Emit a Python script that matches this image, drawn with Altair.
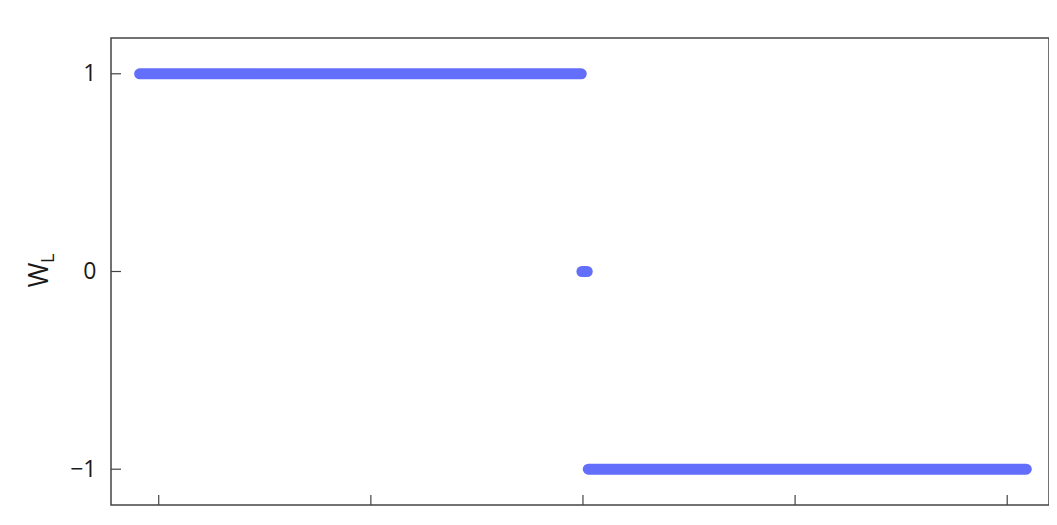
import altair as alt
import pandas as pd

# Segments of densely packed markers
seg_x_start = [-2.09, -0.005, 0.025]
seg_x_end = [-0.008, 0.02, 2.09]
seg_y = [1, 0, -1]

x_ticks = [-2, -1, 0, 1, 2]
y_ticks = [-1, 0, 1]

segs = pd.DataFrame({"x": seg_x_start, "x2": seg_x_end, "y": seg_y})
xt = pd.DataFrame({"t": x_ticks})
yt = pd.DataFrame({"t": y_ticks})

W, H = 938, 467
FONT = "Open Sans"
BLUE = "#636efa"
AX = "#444444"
TXT = "#1a1a1a"

xscale = alt.Scale(domain=[-2.225, 2.197], nice=False, zero=False)
yscale = alt.Scale(domain=[-1.181, 1.181], nice=False, zero=False)

line = alt.Chart(segs).mark_rule(
    strokeWidth=11, strokeCap="round", color=BLUE, opacity=1
).encode(
    x=alt.X("x:Q", scale=xscale,
            axis=alt.Axis(labels=False, ticks=False, domain=False, grid=False, title=None,
                          values=x_ticks)),
    x2="x2:Q",
    y=alt.Y("y:Q", scale=yscale,
            axis=alt.Axis(values=y_ticks, format="d", ticks=False, domain=False, grid=False,
                          labelFont=FONT, labelFontSize=23, labelColor=TXT,
                          labelPadding=15,
                          title="W", titleFont=FONT, titleFontSize=27,
                          titleFontWeight="normal", titleColor=TXT,
                          titleX=-63.5, titleY=236.5, titleAngle=270,
                          titleAlign="center", titleBaseline="alphabetic")),
)

xtick = alt.Chart(xt).mark_rule(color=AX, strokeWidth=1.2).encode(
    x=alt.X("t:Q", scale=xscale),
    y=alt.value(H), y2=alt.value(H - 10),
)

ytick = alt.Chart(yt).mark_rule(color=AX, strokeWidth=1.2).encode(
    y=alt.Y("t:Q", scale=yscale),
    x=alt.value(0), x2=alt.value(10),
)

sub = alt.Chart(pd.DataFrame({"s": ["L"]})).mark_text(
    font=FONT, fontSize=18, angle=270, align="center", baseline="alphabetic",
    color=TXT
).encode(
    text="s:N",
    x=alt.value(-56.7), y=alt.value(220.3),
)

chart = alt.layer(line, xtick, ytick, sub).properties(
    width=W, height=H,
    background="white",
    autosize=alt.AutoSizeParams(type="none"),
    padding={"left": 103, "top": 30, "right": 0, "bottom": 4},
).configure_view(
    stroke=AX, strokeWidth=1.5
)

chart.save("out.html", embed_options={"renderer": "svg", "actions": False})
